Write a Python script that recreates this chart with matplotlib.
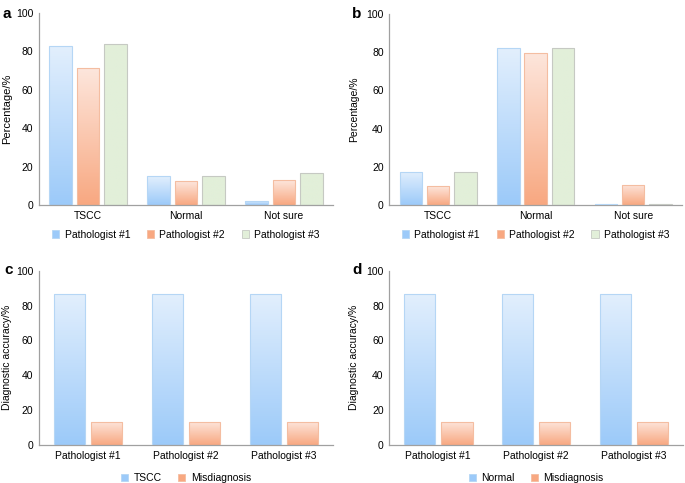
import numpy as np
import matplotlib
matplotlib.use('Agg')
import matplotlib.pyplot as plt
from matplotlib.colors import LinearSegmentedColormap
from matplotlib.patches import Patch

plt.rcParams['font.family'] = ['Liberation Sans', 'DejaVu Sans']
plt.rcParams['font.size'] = 7.5

# data
classes = ['TSCC', 'Normal', 'Not sure']
pathologists = ['Pathologist #1', 'Pathologist #2', 'Pathologist #3']
# panel a - TSCC slides
a_p1 = [82.8, 14.9, 2.3]
a_p2 = [71.2, 12.3, 13.0]
a_p3 = [83.7, 14.9, 16.5]
# panel b - normal slides
b_p1 = [17.4, 82.0, 0.5]
b_p2 = [9.8, 79.6, 10.6]
b_p3 = [17.4, 82.0, 0.5]
# panel c / d - diagnostic accuracy
c_correct = [86.7, 86.7, 86.7]
c_mis = [13.3, 13.3, 13.3]
d_correct = [86.7, 86.7, 86.7]
d_mis = [13.3, 13.3, 13.3]

# styles: (top colour, bottom colour, edge)
BLUE = ('#e2effd', '#9ccaf9', '#b5d6f5')
ORANGE = ('#fde6dc', '#f8a881', '#f4bda1')
GREEN = ('#e2efd9', '#e2efd9', '#c6c9c3')


def grad_bar(ax, x, h, w, style):
    top, bottom, edge = style
    bar = ax.bar(x, h, w, color='none', edgecolor=edge, linewidth=0.8, zorder=3)[0]
    cmap = LinearSegmentedColormap.from_list('g', [bottom, top])
    img = ax.imshow(np.linspace(0, 1, 100).reshape(-1, 1), cmap=cmap, aspect='auto',
                    extent=(x - w / 2, x + w / 2, 0, h), origin='lower', zorder=2)
    img.set_clip_path(bar)


def style_axes(ax, ylabel, cats, ysize, pad):
    ax.set_xlim(-0.5, 2.5)
    ax.set_ylim(0, 100)
    ax.set_yticks([0, 20, 40, 60, 80, 100])
    ax.set_xticks(range(len(cats)))
    ax.set_xticklabels(cats)
    ax.tick_params(length=0, pad=4)
    for s in ['top', 'right']:
        ax.spines[s].set_visible(False)
    for s in ['left', 'bottom']:
        ax.spines[s].set_color('#a0a0a0')
        ax.spines[s].set_linewidth(0.9)
    ax.set_ylabel(ylabel, labelpad=pad, fontsize=ysize)


def legend_below(ax, labels, styles, y):
    handles = [Patch(facecolor=s[1], edgecolor=s[2], linewidth=0.6) for s in styles]
    ax.legend(handles, labels, loc='center', bbox_to_anchor=(0.5, y), ncol=len(labels),
              frameon=False, handlelength=0.7, handleheight=0.7, handletextpad=0.5,
              columnspacing=1.6, fontsize=7.5)


fig = plt.figure(figsize=(6.85, 4.83), dpi=100)
ax_a = fig.add_axes([0.0569, 0.5756, 0.429, 0.3975])
ax_b = fig.add_axes([0.5683, 0.5756, 0.4273, 0.3954])
ax_c = fig.add_axes([0.0569, 0.0787, 0.429, 0.3609])
ax_d = fig.add_axes([0.5683, 0.0787, 0.4288, 0.3609])

# panels a and b: three pathologists per class
for ax, series, ys, pad in [(ax_a, [a_p1, a_p2, a_p3], 8, 2.5), (ax_b, [b_p1, b_p2, b_p3], 7.5, 5)]:
    for j, (vals, st) in enumerate(zip(series, [BLUE, ORANGE, GREEN])):
        for i, v in enumerate(vals):
            grad_bar(ax, i + (j - 1) * 0.28, v, 0.23, st)
    style_axes(ax, 'Percentage/%', classes, ys, pad)
    legend_below(ax, pathologists, [BLUE, ORANGE, GREEN], -0.155)

# panels c and d: accuracy vs misdiagnosis
for ax, good, bad, name, pad in [(ax_c, c_correct, c_mis, 'TSCC', 3), (ax_d, d_correct, d_mis, 'Normal', 5)]:
    for i in range(3):
        grad_bar(ax, i - 0.19, good[i], 0.32, BLUE)
        grad_bar(ax, i + 0.19, bad[i], 0.32, ORANGE)
    style_axes(ax, 'Diagnostic accuracy/%', pathologists, 7.5, pad)
    legend_below(ax, [name, 'Misdiagnosis'], [BLUE, ORANGE], -0.19)

for lab, x, y in [('a', 0.004, 0.985), ('b', 0.514, 0.985), ('c', 0.006, 0.455), ('d', 0.514, 0.455)]:
    fig.text(x, y, lab, fontsize=11, fontweight='bold', va='top', ha='left')

fig.savefig('out.png', dpi=100)
